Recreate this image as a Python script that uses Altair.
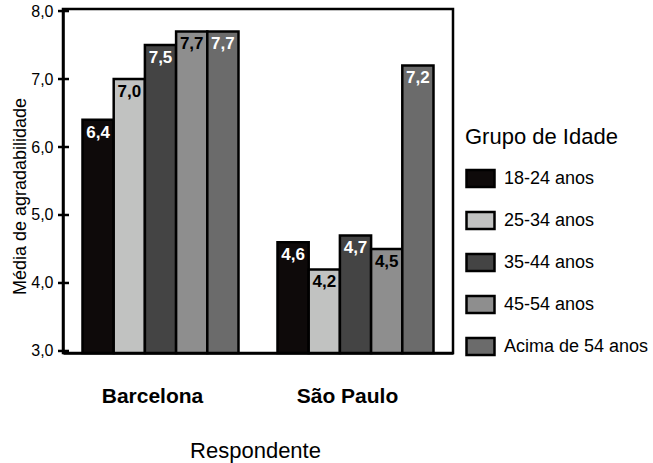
import altair as alt
import pandas as pd

# Mean agreeableness by respondent city and age group
cidades = ["Barcelona", "São Paulo"]
grupos = ["18-24 anos", "25-34 anos", "35-44 anos", "45-54 anos", "Acima de 54 anos"]
barcelona = [6.4, 7.0, 7.5, 7.7, 7.7]
sao_paulo = [4.6, 4.2, 4.7, 4.5, 7.2]
cores = ["#0e0a0a", "#c1c2c1", "#444444", "#8e8e8e", "#6b6b6b"]
grupos_claros = ["25-34 anos", "45-54 anos"]
ticks_y = [3, 4, 5, 6, 7, 8]

rows = []
for cidade, valores in zip(cidades, [barcelona, sao_paulo]):
    for g, v in zip(grupos, valores):
        rows.append({"cidade": cidade, "grupo": g, "valor": v})
df = pd.DataFrame(rows)

FONT = "Liberation Sans"
Y_MIN, Y_MAX = 2.97, 8.03
y_scale = alt.Scale(domain=[Y_MIN, Y_MAX], nice=False, zero=False)
y_axis = alt.Axis(
    title="Média de agradabilidade",
    titleFontSize=18,
    titleFontWeight="normal",
    titleColor="black",
    titleFont=FONT,
    titleX=-38,
    titleY=187,
    titleBaseline="alphabetic",
    values=ticks_y,
    labelExpr="replace(format(datum.value, '.1f'), '.', ',')",
    labelFontSize=16,
    labelColor="black",
    labelFont=FONT,
    labelPadding=10,
    ticks=False,
    domainColor="black",
    domainWidth=2.5,
    grid=False,
)

base = alt.Chart(df).encode(
    x=alt.X(
        "cidade:N",
        sort=cidades,
        scale=alt.Scale(paddingInner=0.2, paddingOuter=0.1),
        axis=alt.Axis(
            title="Respondente",
            titleFontSize=22,
            titleFontWeight="normal",
            titleColor="black",
            titleFont=FONT,
            titleX=192,
            titleY=104,
            titleBaseline="alphabetic",
            labelFontSize=21,
            labelFontWeight="bold",
            labelColor="black",
            labelFont=FONT,
            labelAngle=0,
            labelPadding=32,
            labelOffset=-8,
            ticks=False,
            domainColor="black",
            domainWidth=2.5,
        ),
    ),
    xOffset=alt.XOffset("grupo:N", sort=grupos, scale=alt.Scale(paddingInner=0, paddingOuter=0)),
)

bars = base.mark_bar(stroke="black", strokeWidth=2.5).encode(
    y=alt.Y("valor:Q", scale=y_scale, axis=y_axis),
    y2=alt.datum(Y_MIN),
    color=alt.Color(
        "grupo:N",
        sort=grupos,
        scale=alt.Scale(domain=grupos, range=cores),
        legend=alt.Legend(
            title="Grupo de Idade",
            orient="none",
            legendX=402,
            legendY=118,
            titleFontSize=22,
            titleFontWeight="normal",
            titleColor="black",
            titleFont=FONT,
            titlePadding=14,
            labelFontSize=18,
            labelColor="black",
            labelFont=FONT,
            labelOffset=8,
            symbolType="M-1,-0.6H1V0.6H-1Z",
            symbolSize=784,
            symbolStrokeColor="black",
            symbolStrokeWidth=2.5,
            symbolOpacity=1,
            rowPadding=13,
        ),
    ),
)

labels = base.mark_text(
    dy=13, baseline="middle", fontSize=17, fontWeight="bold", font=FONT
).transform_calculate(
    rotulo="replace(format(datum.valor, '.1f'), '.', ',')"
).encode(
    y=alt.Y("valor:Q", scale=y_scale, axis=y_axis),
    text="rotulo:N",
    color=alt.condition(
        alt.FieldOneOfPredicate(field="grupo", oneOf=grupos_claros),
        alt.value("black"),
        alt.value("white"),
    ),
)

# Tick marks that cross the y-axis line
tick_marks = alt.Chart(pd.DataFrame({"t": ticks_y})).mark_rule(
    color="black", strokeWidth=2.5
).encode(
    y=alt.Y("t:Q", scale=y_scale, axis=y_axis),
    x=alt.value(-5),
    x2=alt.value(6),
)

chart = (
    alt.layer(bars, labels, tick_marks)
    .properties(
        width=390,
        height=344,
        autosize=alt.AutoSizeParams(type="none"),
        padding={"left": 63, "top": 9, "right": 200, "bottom": 110},
        background="white",
    )
    .configure_view(stroke="black", strokeWidth=2.5)
)

chart.save("out.html", embed_options={"renderer": "svg", "actions": False})
